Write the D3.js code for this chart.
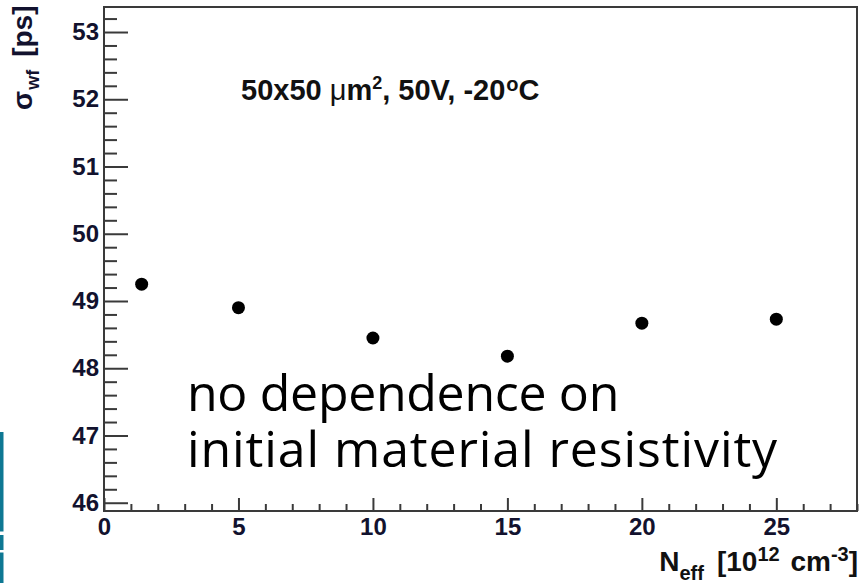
<!DOCTYPE html>
<html>
<head>
<meta charset="utf-8">
<script src="https://cdn.jsdelivr.net/npm/d3@7"></script>
<style>
  html, body { margin: 0; padding: 0; background: #fff; }
  svg { display: block; }
</style>
</head>
<body>
<svg id="chart" width="859" height="583"></svg>
<script>
// Time resolution (waveform contribution) versus effective doping
const nEff = [1.4, 5, 10, 15, 20, 25];
const sigmaWf = [49.25, 48.90, 48.45, 48.18, 48.67, 48.73];

const xMajorTicks = [0, 5, 10, 15, 20, 25];
const yMajorTicks = [46, 47, 48, 49, 50, 51, 52, 53];

const xDomain = [0, 28];
const yDomain = [45.877, 53.372];

const svg = d3.select("#chart");
const W = 859, H = 583;
const frame = { left: 104, right: 857, top: 7, bottom: 511 };

const x = d3.scaleLinear().domain(xDomain).range([frame.left, frame.right]);
const y = d3.scaleLinear().domain(yDomain).range([frame.bottom, frame.top]);

const axisColor = "#3a3a3a";
const labelColor = "#12122e";
const tickFont = "'Liberation Sans', Arial, Helvetica, sans-serif";

svg.append("rect").attr("width", W).attr("height", H).attr("fill", "#fff");

// Decorative slide strip at the left edge
const strip = [[432, 531.5], [535, 550], [552.5, 583]];
svg.selectAll("rect.strip").data(strip).enter().append("rect")
  .attr("class", "strip")
  .attr("x", 0).attr("width", 3.5)
  .attr("y", d => d[0]).attr("height", d => d[1] - d[0])
  .attr("fill", "#0e7893");

// Minor ticks
const xMinor = d3.range(0, 28.001, 1).filter(v => v % 5 !== 0);
const yMinor = d3.range(46, 53.4, 0.2).map(v => +v.toFixed(1))
  .filter(v => Math.abs(v - Math.round(v)) > 1e-6 && v <= yDomain[1]);

function styleAxis(g, fontSize) {
  g.select(".domain").remove();
  g.selectAll(".tick line").attr("stroke", axisColor).attr("stroke-width", 2);
  g.selectAll(".tick text")
    .attr("fill", labelColor)
    .attr("font-family", tickFont)
    .attr("font-weight", "bold")
    .attr("font-size", fontSize);
}

// Y axis: inward major and minor ticks
svg.append("g")
  .attr("transform", `translate(${frame.left},0)`)
  .call(d3.axisLeft(y).tickValues(yMinor).tickSizeInner(-13).tickSizeOuter(0).tickFormat(""))
  .call(g => styleAxis(g, 24));

svg.append("g")
  .attr("transform", `translate(${frame.left},0)`)
  .call(d3.axisLeft(y).tickValues(yMajorTicks).tickSizeInner(-24).tickSizeOuter(0).tickPadding(5).tickFormat(d3.format("d")))
  .call(g => styleAxis(g, 24));

// X axis: inward major and minor ticks
svg.append("g")
  .attr("transform", `translate(0,${frame.bottom})`)
  .call(d3.axisBottom(x).tickValues(xMinor).tickSizeInner(-7).tickSizeOuter(0).tickFormat(""))
  .call(g => styleAxis(g, 24));

svg.append("g")
  .attr("transform", `translate(0,${frame.bottom})`)
  .call(d3.axisBottom(x).tickValues(xMajorTicks).tickSizeInner(-13).tickSizeOuter(0).tickPadding(7).tickFormat(d3.format("d")))
  .call(g => styleAxis(g, 24));

// Plot frame
svg.append("rect")
  .attr("x", frame.left).attr("y", frame.top)
  .attr("width", frame.right - frame.left).attr("height", frame.bottom - frame.top)
  .attr("fill", "none").attr("stroke", axisColor).attr("stroke-width", 2);

// Data points
svg.selectAll("circle.pt").data(nEff).enter().append("circle")
  .attr("class", "pt")
  .attr("cx", d => x(d))
  .attr("cy", (d, i) => y(sigmaWf[i]))
  .attr("r", 6.5)
  .attr("fill", "#000");

// Measurement conditions
const cond = svg.append("text")
  .attr("x", 241).attr("y", 100)
  .attr("font-family", tickFont).attr("font-weight", "bold").attr("font-size", 29)
  .attr("fill", "#111");
cond.append("tspan").text("50x50 ");
cond.append("tspan").attr("font-weight", "normal").text("\u03bc");
cond.append("tspan").text("m");
cond.append("tspan").attr("font-size", 18).attr("dy", -11).text("2");
cond.append("tspan").attr("dy", 11).text(", 50V, -20");
cond.append("tspan").attr("font-size", 20).attr("dy", -9).attr("dx", 1).text("o");
cond.append("tspan").attr("dy", 9).text("C");

// Y axis title
const yTitle = svg.append("text")
  .attr("transform", "translate(31.5,110) rotate(-90)")
  .attr("font-family", tickFont).attr("font-weight", "bold").attr("font-size", 28)
  .attr("fill", labelColor);
yTitle.append("tspan").text("\u03c3");
yTitle.append("tspan").attr("font-size", 18).attr("dy", 7).attr("dx", 1).text("wf");
yTitle.append("tspan").attr("dy", -7).attr("dx", 13).text("[ps]");

// X axis title
const xTitle = svg.append("text")
  .attr("x", 858).attr("y", 571)
  .attr("text-anchor", "end")
  .attr("font-family", tickFont).attr("font-weight", "bold").attr("font-size", 28)
  .attr("fill", "#111");
xTitle.append("tspan").text("N");
xTitle.append("tspan").attr("font-size", 20).attr("dy", 9).text("eff");
xTitle.append("tspan").attr("dy", -9).attr("dx", 13).text("[10");
xTitle.append("tspan").attr("font-size", 20).attr("dy", -10).text("12");
xTitle.append("tspan").attr("dy", 10).attr("dx", 3).text(" cm");
xTitle.append("tspan").attr("font-size", 20).attr("dy", -10).text("-3");
xTitle.append("tspan").attr("dy", 10).text("]");

// Annotation
const noteFont = "'Open Sans', 'Noto Sans', sans-serif";
svg.append("text")
  .attr("x", 187).attr("y", 411)
  .attr("font-family", noteFont).attr("font-size", 50)
  .attr("letter-spacing", -0.3)
  .attr("fill", "#000")
  .text("no dependence on");
svg.append("text")
  .attr("x", 187).attr("y", 467)
  .attr("font-family", noteFont).attr("font-size", 50)
  .attr("letter-spacing", 0.9)
  .attr("fill", "#000")
  .text("initial material resistivity");
</script>
</body>
</html>
